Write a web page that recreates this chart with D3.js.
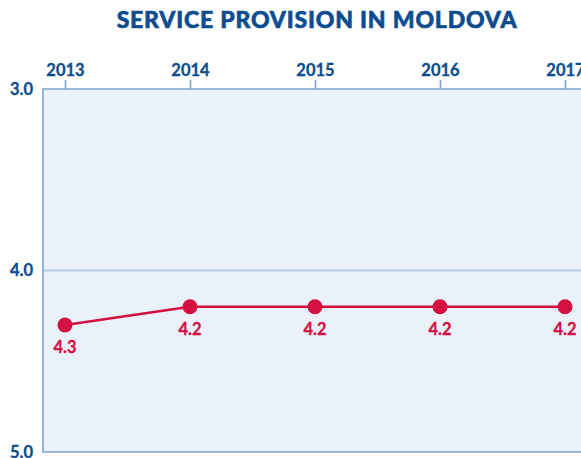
<!DOCTYPE html>
<html>
<head>
<meta charset="utf-8">
<script src="https://cdn.jsdelivr.net/npm/d3@7"></script>
<style>
  html, body { margin: 0; padding: 0; background: #ffffff; }
  svg { display: block; }
  text { font-family: Lato, "Open Sans", sans-serif; }
</style>
</head>
<body>
<svg id="chart" width="581" height="458"></svg>
<script>
// Service provision score by year (lower is better, axis inverted)
const years = [2013, 2014, 2015, 2016, 2017];
const scores = [4.3, 4.2, 4.2, 4.2, 4.2];
const scoreLabels = ["4.3", "4.2", "4.2", "4.2", "4.2"];
const yTicks = [3.0, 4.0, 5.0];
const titleText = "SERVICE PROVISION IN MOLDOVA";

const svg = d3.select("#chart");
const W = 581, H = 458;
const plot = { left: 43, top: 89, right: 600, bottom: 452 };

const blue = "#0d4d8f";
const frame = "#7fa3cf";
const red = "#d3103f";

const x = d3.scaleLinear().domain([2013, 2017]).range([65, 565]);
const y = d3.scaleLinear().domain([3, 5]).range([plot.top, plot.bottom]);

// Title
svg.append("text")
  .attr("x", 317).attr("y", 28)
  .attr("text-anchor", "middle")
  .attr("fill", blue)
  .attr("stroke", blue)
  .attr("stroke-width", 0.6)
  .style("font-size", "23px")
  .style("font-weight", 900)
  .style("letter-spacing", "0.8px")
  .text(titleText);

// Plot background
svg.append("rect")
  .attr("x", plot.left).attr("y", plot.top)
  .attr("width", plot.right - plot.left).attr("height", plot.bottom - plot.top)
  .attr("fill", "#eaf1fa");

// Gridline at 4.0
svg.append("line")
  .attr("x1", plot.left).attr("x2", W)
  .attr("y1", y(4)).attr("y2", y(4))
  .attr("stroke", "#b3cbe7").attr("stroke-width", 2);

// Frame: top, left, bottom
svg.append("path")
  .attr("d", `M${W},${plot.top}H${plot.left}V${plot.bottom}H${W}`)
  .attr("fill", "none")
  .attr("stroke", frame)
  .attr("stroke-width", 1.6);

// Top year axis
const xAxis = d3.axisTop(x)
  .tickValues(years)
  .tickFormat(d3.format("d"))
  .tickSize(9)
  .tickPadding(4);

const gx = svg.append("g")
  .attr("transform", `translate(0,${plot.top})`)
  .call(xAxis);
gx.select(".domain").remove();
gx.selectAll(".tick line").attr("stroke", frame).attr("stroke-width", 1.6);
gx.selectAll(".tick text")
  .attr("fill", blue)
  .attr("stroke", blue)
  .attr("stroke-width", 0.3)
  .style("font-size", "16.5px")
  .style("font-weight", 700);

// Left score axis (labels only)
const yAxis = d3.axisLeft(y)
  .tickValues(yTicks)
  .tickFormat(d3.format(".1f"))
  .tickSize(0)
  .tickPadding(10);

const gy = svg.append("g")
  .attr("transform", `translate(${plot.left},0)`)
  .call(yAxis);
gy.select(".domain").remove();
gy.selectAll(".tick text")
  .attr("fill", blue)
  .attr("stroke", blue)
  .attr("stroke-width", 0.3)
  .style("font-size", "16.5px")
  .style("font-weight", 700);

// Series line
const data = years.map((yr, i) => ({ year: yr, score: scores[i], label: scoreLabels[i] }));

svg.append("path")
  .datum(data)
  .attr("fill", "none")
  .attr("stroke", red)
  .attr("stroke-width", 2.5)
  .attr("d", d3.line().x(d => x(d.year)).y(d => y(d.score)));

svg.selectAll("circle.pt")
  .data(data)
  .join("circle")
  .attr("class", "pt")
  .attr("cx", d => x(d.year))
  .attr("cy", d => y(d.score))
  .attr("r", 7.5)
  .attr("fill", red);

svg.selectAll("text.val")
  .data(data)
  .join("text")
  .attr("class", "val")
  .attr("x", d => x(d.year))
  .attr("y", d => y(d.score) + 28)
  .attr("text-anchor", "middle")
  .attr("fill", red)
  .attr("stroke", red)
  .attr("stroke-width", 0.3)
  .style("font-size", "16.5px")
  .style("font-weight", 700)
  .text(d => d.label);
</script>
</body>
</html>
